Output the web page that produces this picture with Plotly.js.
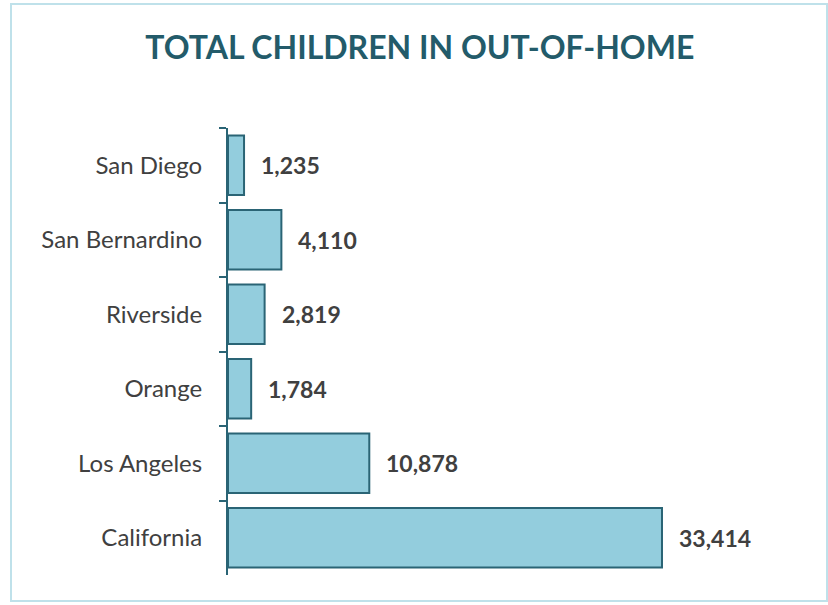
<!DOCTYPE html>
<html><head><meta charset="utf-8">
<script src="https://cdn.plot.ly/plotly-3.0.1.min.js"></script>
<style>
body{margin:0;background:#fff;}
#wrap{position:relative;width:828px;height:605px;}
#chart{width:828px;height:605px;}
#frame{position:absolute;left:10px;top:3px;width:814px;height:595px;border:2px solid #bfe1ea;pointer-events:none;}
</style></head>
<body><div id="wrap"><div id="chart"></div><div id="frame"></div></div>
<script>
const categories = ["San Diego","San Bernardino","Riverside","Orange","Los Angeles","California"];
const values = [1235, 4110, 2819, 1784, 10878, 33414];

const trace = {
  type: "bar", orientation: "h",
  y: categories, x: values,
  marker: {color: "#93cddd", line: {color: "#2a6475", width: 2}},
  width: 0.8,
  hoverinfo: "none"
};

const annotations = categories.map((c, i) => ({
  x: values[i], y: c, xref: "x", yref: "y",
  text: values[i].toLocaleString("en-US"),
  showarrow: false, xanchor: "left", xshift: 15,
  font: {family: "Lato, 'Open Sans', sans-serif", size: 23, color: "#404040", weight: "bold"}
}));

const layout = {
  width: 828, height: 605,
  margin: {l: 228, r: 28, t: 128, b: 30},
  paper_bgcolor: "#ffffff", plot_bgcolor: "#ffffff",
  title: {text: "<b>TOTAL CHILDREN IN OUT-OF-HOME</b>", x: 0.507, xanchor: "center", y: 0.921, yanchor: "middle",
    font: {family: "Lato, 'Open Sans', sans-serif", size: 32, color: "#235b6a"}},
  xaxis: {range: [0, 44040], visible: false, fixedrange: true},
  yaxis: {autorange: "reversed", type: "category", showline: true, linecolor: "#2a6475", linewidth: 2,
    ticks: "outside", ticklen: 7, tickwidth: 2, tickcolor: "#2a6475", tickson: "boundaries",
    ticklabelstandoff: 19, showgrid: false, zeroline: false,
    tickfont: {family: "Lato, 'Open Sans', sans-serif", size: 24, color: "#404040"}},
  showlegend: false,
  annotations: annotations
};

Plotly.newPlot("chart", [trace], layout, {displayModeBar: false, staticPlot: true});
</script></body></html>
